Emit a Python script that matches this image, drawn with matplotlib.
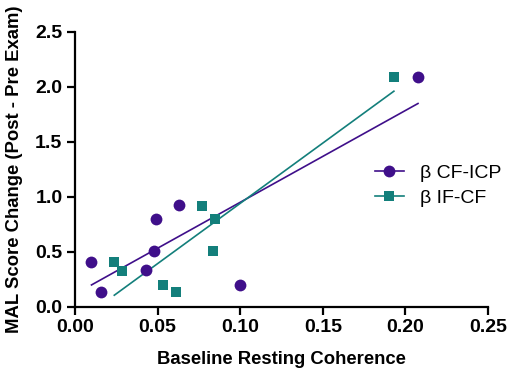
import numpy as np
import matplotlib
matplotlib.use('Agg')
import matplotlib.pyplot as plt
from matplotlib.lines import Line2D

# beta CF-ICP
x_cf_icp = [0.010, 0.0155, 0.043, 0.048, 0.049, 0.063, 0.100, 0.2076]
y_cf_icp = [0.41, 0.13, 0.33, 0.51, 0.80, 0.92, 0.20, 2.085]

# beta IF-CF
x_if_cf = [0.0238, 0.0282, 0.0534, 0.0609, 0.077, 0.0838, 0.0848, 0.193]
y_if_cf = [0.41, 0.327, 0.197, 0.13, 0.918, 0.506, 0.80, 2.085]

labels = ['β CF-ICP', 'β IF-CF']
purple = '#3f0f8a'
teal = '#137f7b'

plt.rcParams['font.family'] = ['Liberation Sans', 'DejaVu Sans']

fig = plt.figure(figsize=(5.1, 3.8), dpi=100)
ax = fig.add_axes([0.147, 0.193, 0.810, 0.724])

for xs, ys, col, mk, ms in [(x_cf_icp, y_cf_icp, purple, 'o', 8.5),
                            (x_if_cf, y_if_cf, teal, 's', 7.5)]:
    xs = np.array(xs)
    ys = np.array(ys)
    k, b = np.polyfit(xs, ys, 1)
    xl = np.array([xs.min(), xs.max()])
    ax.plot(xl, k * xl + b, color=col, lw=1.2, zorder=2)
    ax.plot(xs, ys, linestyle='none', marker=mk, ms=ms, color=col,
            markeredgewidth=0, zorder=3, clip_on=False)

ax.set_xlim(0, 0.25)
ax.set_ylim(0, 2.5)
ax.set_xticks(np.arange(0, 0.26, 0.05))
ax.set_yticks(np.arange(0, 2.6, 0.5))
ax.set_xticklabels(['%.2f' % v for v in np.arange(0, 0.26, 0.05)])
ax.set_yticklabels(['%.1f' % v for v in np.arange(0, 2.6, 0.5)])

for s in ['top', 'right']:
    ax.spines[s].set_visible(False)
for s in ['left', 'bottom']:
    ax.spines[s].set_linewidth(1.6)
ax.tick_params(width=1.6, length=6, pad=3, labelsize=14)
for t in ax.get_xticklabels() + ax.get_yticklabels():
    t.set_fontweight('bold')

ax.set_xlabel('Baseline Resting Coherence', fontsize=13.3, fontweight='bold', labelpad=11)
ax.set_ylabel('MAL Score Change (Post - Pre Exam)', fontsize=13.3, fontweight='bold', labelpad=9)

handles = [Line2D([], [], color=purple, lw=1.2, marker='o', ms=8.5, markeredgewidth=0),
           Line2D([], [], color=teal, lw=1.2, marker='s', ms=7.5, markeredgewidth=0)]
ax.legend(handles, labels, loc='center left', bbox_to_anchor=(0.726, 0.44),
          frameon=False, fontsize=14, handlelength=1.5, handletextpad=0.8,
          labelspacing=0.35, borderpad=0, borderaxespad=0)

fig.savefig('out.png', dpi=100)
